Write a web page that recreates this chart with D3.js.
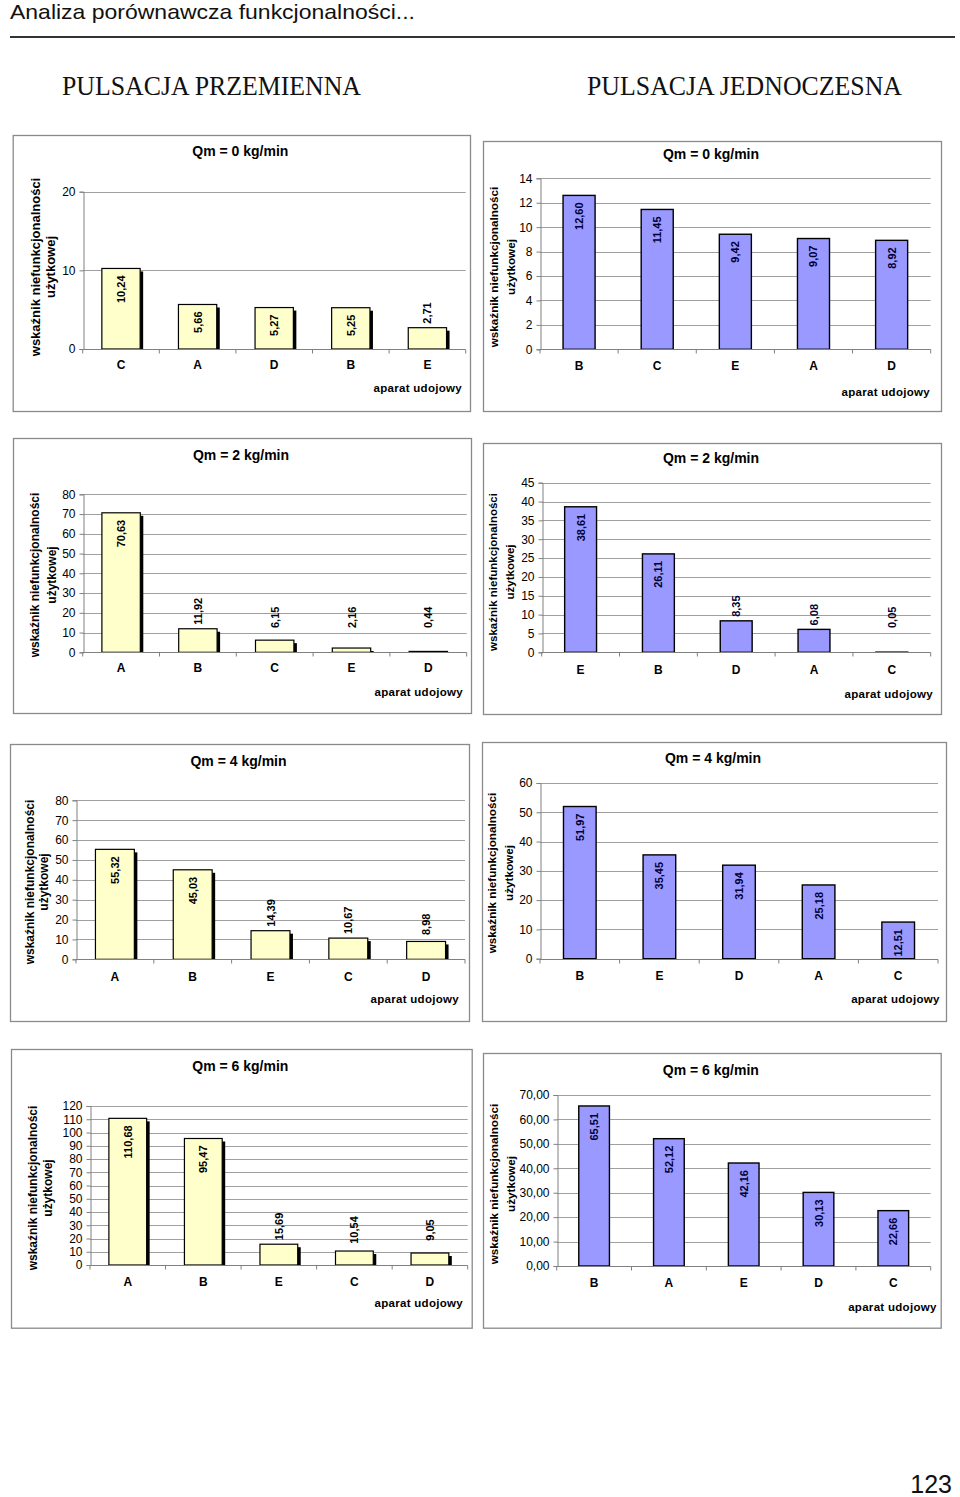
<!DOCTYPE html>
<html>
<head>
<meta charset="utf-8">
<script src="https://cdn.jsdelivr.net/npm/d3@7"></script>
<style>
  html, body { margin: 0; padding: 0; background: #fff; }
  svg { display: block; }
</style>
</head>
<body>
<svg id="page" width="960" height="1497"></svg>
<script>
// ---------- DATA ----------
const pageTitle = "Analiza porównawcza funkcjonalności...";
const leftHeading = "PULSACJA PRZEMIENNA";
const rightHeading = "PULSACJA JEDNOCZESNA";
const pageNumber = "123";
const yAxisTitle = ["wskaźnik niefunkcjonalności", "użytkowej"];
const xAxisTitle = "aparat udojowy";

// Pulsacja przemienna (left column)
const titleL1 = "Qm = 0 kg/min";
const catsL1 = ["C", "A", "D", "B", "E"];
const valsL1 = [10.24, 5.66, 5.27, 5.25, 2.71];
const ticksL1 = [0, 10, 20];

const titleL2 = "Qm = 2 kg/min";
const catsL2 = ["A", "B", "C", "E", "D"];
const valsL2 = [70.63, 11.92, 6.15, 2.16, 0.44];
const ticksL2 = [0, 10, 20, 30, 40, 50, 60, 70, 80];

const titleL3 = "Qm = 4 kg/min";
const catsL3 = ["A", "B", "E", "C", "D"];
const valsL3 = [55.32, 45.03, 14.39, 10.67, 8.98];
const ticksL3 = [0, 10, 20, 30, 40, 50, 60, 70, 80];

const titleL4 = "Qm = 6 kg/min";
const catsL4 = ["A", "B", "E", "C", "D"];
const valsL4 = [110.68, 95.47, 15.69, 10.54, 9.05];
const ticksL4 = [0, 10, 20, 30, 40, 50, 60, 70, 80, 90, 100, 110, 120];

// Pulsacja jednoczesna (right column)
const titleR1 = "Qm = 0 kg/min";
const catsR1 = ["B", "C", "E", "A", "D"];
const valsR1 = [12.60, 11.45, 9.42, 9.07, 8.92];
const ticksR1 = [0, 2, 4, 6, 8, 10, 12, 14];

const titleR2 = "Qm = 2 kg/min";
const catsR2 = ["E", "B", "D", "A", "C"];
const valsR2 = [38.61, 26.11, 8.35, 6.08, 0.05];
const ticksR2 = [0, 5, 10, 15, 20, 25, 30, 35, 40, 45];

const titleR3 = "Qm = 4 kg/min";
const catsR3 = ["B", "E", "D", "A", "C"];
const valsR3 = [51.97, 35.45, 31.94, 25.18, 12.51];
const ticksR3 = [0, 10, 20, 30, 40, 50, 60];

const titleR4 = "Qm = 6 kg/min";
const catsR4 = ["B", "A", "E", "D", "C"];
const valsR4 = [65.51, 52.12, 42.16, 30.13, 22.66];
const ticksR4 = [0, 10, 20, 30, 40, 50, 60, 70];

// ---------- LAYOUT / STYLE ----------
const FONT = "'Liberation Sans', Arial, Helvetica, sans-serif";
const SERIF = "'Liberation Serif', 'Times New Roman', serif";

const panels = [
  {title: titleL1, cats: catsL1, vals: valsL1, ticks: ticksL1, side: "L",
   frame: [12.7, 135, 470, 411], x0: 82.7, x1: 465.7, yT: 191.7, yB: 349,
   titleY: 151, catY: 365, axY: 388, axR: 462, ytX: [35, 50], ytY: 267, ytFs: 13},
  {title: titleL2, cats: catsL2, vals: valsL2, ticks: ticksL2, side: "L",
   frame: [13, 438, 471, 713], x0: 82.7, x1: 466.7, yT: 494.3, yB: 652.3,
   titleY: 455, catY: 668, axY: 692, axR: 463, ytX: [35, 52], ytY: 575, ytFs: 12},
  {title: titleL3, cats: catsL3, vals: valsL3, ticks: ticksL3, side: "L",
   frame: [10, 744, 469, 1021], x0: 76, x1: 465, yT: 800.3, yB: 959.3,
   titleY: 760.7, catY: 976.7, axY: 999, axR: 459, ytX: [30, 44], ytY: 882, ytFs: 12},
  {title: titleL4, cats: catsL4, vals: valsL4, ticks: ticksL4, side: "L",
   frame: [11, 1049, 471.7, 1327.7], x0: 90, x1: 467.7, yT: 1106, yB: 1265,
   titleY: 1065.7, catY: 1281.7, axY: 1303, axR: 463, ytX: [33, 48], ytY: 1188, ytFs: 12},
  {title: titleR1, cats: catsR1, vals: valsR1, ticks: ticksR1, side: "R",
   frame: [483, 141, 941, 411], x0: 540, x1: 930.7, yT: 178.3, yB: 349.3,
   titleY: 154, catY: 366, axY: 392, axR: 930, ytX: [493, 510], ytY: 267, ytFs: 11.7},
  {title: titleR2, cats: catsR2, vals: valsR2, ticks: ticksR2, side: "R",
   frame: [483, 443, 941, 714], x0: 541.7, x1: 930.7, yT: 482.7, yB: 652.3,
   titleY: 458, catY: 670, axY: 694, axR: 933, ytX: [493, 510], ytY: 572, ytFs: 11.5},
  {title: titleR3, cats: catsR3, vals: valsR3, ticks: ticksR3, side: "R",
   frame: [482, 742, 946, 1021], x0: 540, x1: 938, yT: 783, yB: 958.7,
   titleY: 758, catY: 976, axY: 998.7, axR: 939.7, ytX: [491, 508], ytY: 873, ytFs: 11.7},
  {title: titleR4, cats: catsR4, vals: valsR4, ticks: ticksR4, side: "R",
   frame: [483, 1053, 940.7, 1327.7], x0: 556.7, x1: 930.7, yT: 1095, yB: 1266,
   titleY: 1070, catY: 1282.7, axY: 1307, axR: 936.7, ytX: [493, 510], ytY: 1184, ytFs: 11.7, fmt2: true}
];

const svg = d3.select("#page");
svg.append("rect").attr("width", 960).attr("height", 1497).attr("fill", "#fff");

// ---------- PAGE HEADER ----------
svg.append("text").attr("x", 10).attr("y", 19)
  .attr("font-family", FONT).attr("font-size", 21).attr("fill", "#111")
  .attr("textLength", 405).attr("lengthAdjust", "spacingAndGlyphs")
  .text(pageTitle);
svg.append("line").attr("x1", 10).attr("x2", 955).attr("y1", 37).attr("y2", 37)
  .attr("stroke", "#333").attr("stroke-width", 2);

svg.append("text").attr("x", 62).attr("y", 95)
  .attr("font-family", SERIF).attr("font-size", 27).attr("fill", "#111")
  .attr("textLength", 299).attr("lengthAdjust", "spacingAndGlyphs")
  .text(leftHeading);
svg.append("text").attr("x", 587).attr("y", 95)
  .attr("font-family", SERIF).attr("font-size", 27).attr("fill", "#111")
  .attr("textLength", 315).attr("lengthAdjust", "spacingAndGlyphs")
  .text(rightHeading);

svg.append("text").attr("x", 952).attr("y", 1493).attr("text-anchor", "end")
  .attr("font-family", FONT).attr("font-size", 25).attr("fill", "#111")
  .text(pageNumber);

// ---------- PANELS ----------
panels.forEach(p => {
  const g = svg.append("g");
  const [fx0, fy0, fx1, fy1] = p.frame;
  g.append("rect").attr("x", fx0 + 0.5).attr("y", fy0 + 0.5)
    .attr("width", fx1 - fx0).attr("height", fy1 - fy0)
    .attr("fill", "#fff").attr("stroke", "#8a8a8a").attr("stroke-width", 1.3);

  // title
  g.append("text").attr("x", (fx0 + fx1) / 2 - 1).attr("y", p.titleY)
    .attr("text-anchor", "middle").attr("dominant-baseline", "central")
    .attr("font-family", FONT).attr("font-size", 14).attr("font-weight", "bold")
    .attr("fill", "#000").text(p.title);

  const yMax = p.ticks[p.ticks.length - 1];
  const y = d3.scaleLinear().domain([0, yMax]).range([p.yB, p.yT]);
  const x = d3.scaleBand().domain(p.cats).range([p.x0, p.x1]).padding(0);
  const barRatio = p.side === "L" ? 0.5 : 0.41;
  const bw = x.bandwidth() * barRatio;

  // gridlines
  g.append("g").selectAll("line").data(p.ticks.filter(t => t > 0)).join("line")
    .attr("x1", p.x0).attr("x2", p.x1)
    .attr("y1", d => Math.round(y(d)) + 0.5).attr("y2", d => Math.round(y(d)) + 0.5)
    .attr("stroke", "#a0a0a0").attr("stroke-width", 1);

  // y axis
  const fmt = p.fmt2 ? (d => d3.format(".2f")(d).replace(".", ",")) : (d => String(d));
  const yAxis = d3.axisLeft(y).tickValues(p.ticks).tickSize(4).tickPadding(4).tickFormat(fmt);
  const ya = g.append("g").attr("transform", `translate(${Math.round(p.x0) + 0.5},0)`).call(yAxis);
  ya.select(".domain").attr("stroke", "#808080");
  ya.selectAll(".tick line").attr("stroke", "#808080");
  ya.selectAll(".tick text").attr("font-family", FONT).attr("font-size", 12).attr("fill", "#000");

  // shadows (left column only)
  if (p.side === "L") {
    g.append("g").selectAll("rect").data(p.vals).join("rect")
      .attr("x", (d, i) => x(p.cats[i]) + (x.bandwidth() - bw) / 2 + 3)
      .attr("y", d => y(d) + 3)
      .attr("width", bw)
      .attr("height", d => Math.max(0, p.yB - y(d) - 3))
      .attr("fill", "#000");
  }

  // bars
  g.append("g").selectAll("rect").data(p.vals).join("rect")
    .attr("x", (d, i) => x(p.cats[i]) + (x.bandwidth() - bw) / 2)
    .attr("y", d => y(d))
    .attr("width", bw)
    .attr("height", d => Math.max(0, p.yB - y(d)))
    .attr("fill", p.side === "L" ? "#FFFFCC" : "#9999FF")
    .attr("stroke", "#000").attr("stroke-width", p.side === "L" ? 1.2 : 1.4);

  // x axis
  const xa = g.append("g").attr("transform", `translate(0,${Math.round(p.yB) + 0.5})`);
  xa.append("line").attr("x1", p.x0).attr("x2", p.x1).attr("stroke", "#808080");
  xa.selectAll("line.tk").data(p.cats.concat(["__end"])).join("line").attr("class", "tk")
    .attr("x1", (d, i) => p.x0 + i * x.step()).attr("x2", (d, i) => p.x0 + i * x.step())
    .attr("y1", 0).attr("y2", 4).attr("stroke", "#808080");
  g.append("g").selectAll("text").data(p.cats).join("text")
    .attr("x", d => x(d) + x.bandwidth() / 2).attr("y", p.catY)
    .attr("text-anchor", "middle").attr("dominant-baseline", "central")
    .attr("font-family", FONT).attr("font-size", 12).attr("font-weight", "bold")
    .attr("fill", "#000").text(d => d);

  // value labels (rotated)
  const lblColor = p.side === "L" ? "#000" : "#000033";
  p.vals.forEach((v, i) => {
    const cx = x(p.cats[i]) + x.bandwidth() / 2;
    const top = y(v);
    const h = p.yB - top;
    const t = g.append("text")
      .attr("font-family", FONT).attr("font-size", 11).attr("font-weight", "bold")
      .attr("fill", lblColor).attr("dominant-baseline", "central")
      .text(d3.format(".2f")(v).replace(".", ","));
    const len = t.node().getComputedTextLength();
    let center;
    if (h >= 34) {
      center = top + 7 + len / 2;
    } else {
      center = Math.min(top - 4 - len / 2, p.yB - 35);
    }
    t.attr("text-anchor", "middle")
      .attr("transform", `translate(${cx},${center}) rotate(-90)`);
  });

  // y axis title (two lines, rotated)
  yAxisTitle.forEach((line, k) => {
    g.append("text")
      .attr("transform", `translate(${p.ytX[k]},${p.ytY}) rotate(-90)`)
      .attr("text-anchor", "middle").attr("dominant-baseline", "central")
      .attr("font-family", FONT).attr("font-size", p.ytFs).attr("font-weight", "bold")
      .attr("fill", "#000").text(line);
  });

  // x axis title
  g.append("text").attr("x", p.axR).attr("y", p.axY)
    .attr("text-anchor", "end").attr("dominant-baseline", "central")
    .attr("font-family", FONT).attr("font-size", 11.5).attr("font-weight", "bold")
    .attr("letter-spacing", 0.3)
    .attr("fill", "#000").text(xAxisTitle);
});
</script>
</body>
</html>
